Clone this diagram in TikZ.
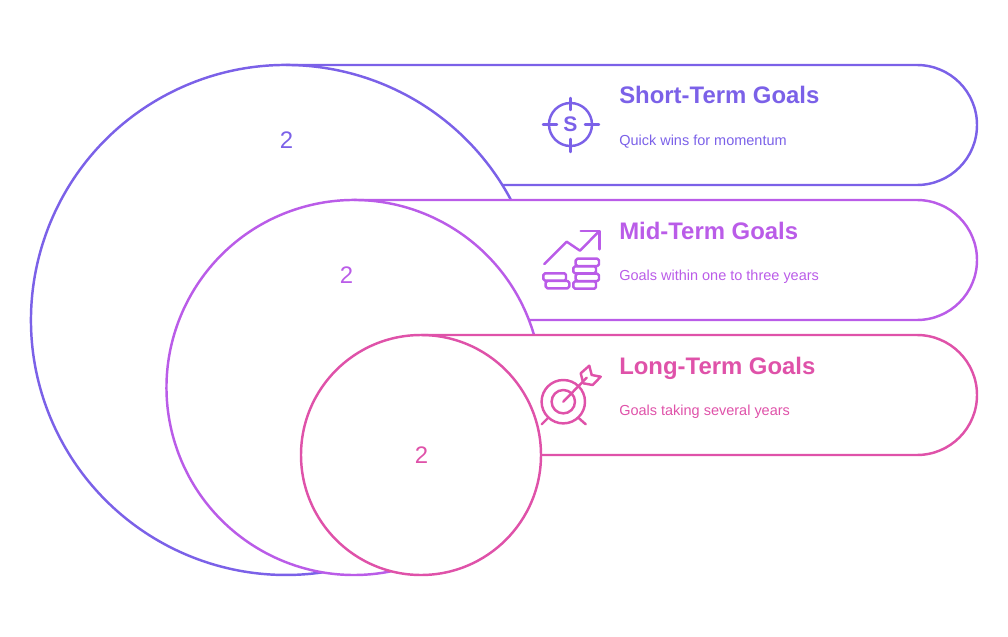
\documentclass[tikz,border=0pt]{standalone}
\usepackage{fontspec}
\setmainfont{Liberation Sans}
\definecolor{shortclr}{HTML}{7B61E8}
\definecolor{midclr}{HTML}{BA5CE8}
\definecolor{longclr}{HTML}{DF52A9}
\begin{document}
\begin{tikzpicture}[
    x=0.025cm, y=-0.025cm,
    band/.style={line width=1.75pt, line join=round},
    icon/.style={line width=1.75pt, line join=round, line cap=round},
    coin/.style={icon, rounded corners=1.2pt},
    title/.style={anchor=base west, inner sep=0pt, font=\fontsize{17}{20}\selectfont\bfseries},
    sub/.style={anchor=base west, inner sep=0pt, font=\fontsize{10.3}{12}\selectfont},
    num/.style={inner sep=0pt, font=\fontsize{17}{20}\selectfont},
]
\useasboundingbox (0,0) rectangle (1008,637);

% --- Short-Term ---
\draw[band, shortclr] (511,200) arc (-28.07:-278.25:255);
\draw[band, shortclr] (286,65) -- (917,65) arc (-90:90:60) -- (502.3,185);
\node[num, text=shortclr] (shortnum) at (286.5,140) {2};
\node[title, text=shortclr] (shorttitle) at (619,104) {Short-Term Goals};
\node[sub, text=shortclr] (shortsub) at (619,145) {Quick wins for momentum};
\begin{scope}[icon, shortclr]
    \draw (570.5,124.5) circle (21.5);
    \draw (543,124.5) -- (557,124.5) (585,124.5) -- (599,124.5);
    \draw (570.5,98) -- (570.5,110) (570.5,139) -- (570.5,152);
\end{scope}
\node[inner sep=0pt, text=shortclr, font=\fontsize{15}{18}\selectfont\bfseries] (shorticon) at (570.5,124.5) {S};

% --- Mid-Term ---
\draw[band, midclr] (534,335) arc (-16.26:-281.5:187.5);
\draw[band, midclr] (354,200) -- (917,200) arc (-90:90:60) -- (529,320);
\node[num, text=midclr] (midnum) at (346.5,275) {2};
\node[title, text=midclr] (midtitle) at (619,239) {Mid-Term Goals};
\node[sub, text=midclr] (midsub) at (619,280) {Goals within one to three years};
\begin{scope}[icon, midclr]
    \draw (544.3,264) -- (566.7,241.7) -- (580,250.7) -- (599.3,231);
    \draw (580.7,231) -- (599.3,231) -- (599.3,249.3);
\end{scope}
\begin{scope}[coin, midclr]
    \draw (543.3,273.3) rectangle (566,280.7);
    \draw (545.7,281) rectangle (569.3,288.3);
    \draw (575.7,258.7) rectangle (599,266);
    \draw (573.3,266.3) rectangle (596,273.3);
    \draw (575.7,273.7) rectangle (599,281);
    \draw (573.3,281.3) rectangle (596,288.7);
\end{scope}

% --- Long-Term ---
\draw[band, longclr] (421,455) circle (120);
\draw[band, longclr] (421,335) -- (917,335) arc (-90:90:60) -- (541,455);
\node[num, text=longclr] (longnum) at (421.5,455) {2};
\node[title, text=longclr] (longtitle) at (619,374) {Long-Term Goals};
\node[sub, text=longclr] (longsub) at (619,415) {Goals taking several years};
\begin{scope}[icon, longclr]
    \draw (563.3,401.7) circle (21.7) circle (11.7);
    \draw (563.3,401.7) -- (586.7,377.7);
    \draw (580.7,373.3) -- (589.3,365.7) -- (591.7,375) -- (600.7,376.7) -- (592.7,385) -- (583.3,383.3) -- cycle;
    \draw (541.7,424.3) -- (548.3,417.7) (578.3,417.7) -- (585.7,424.3);
\end{scope}
\end{tikzpicture}
\end{document}
